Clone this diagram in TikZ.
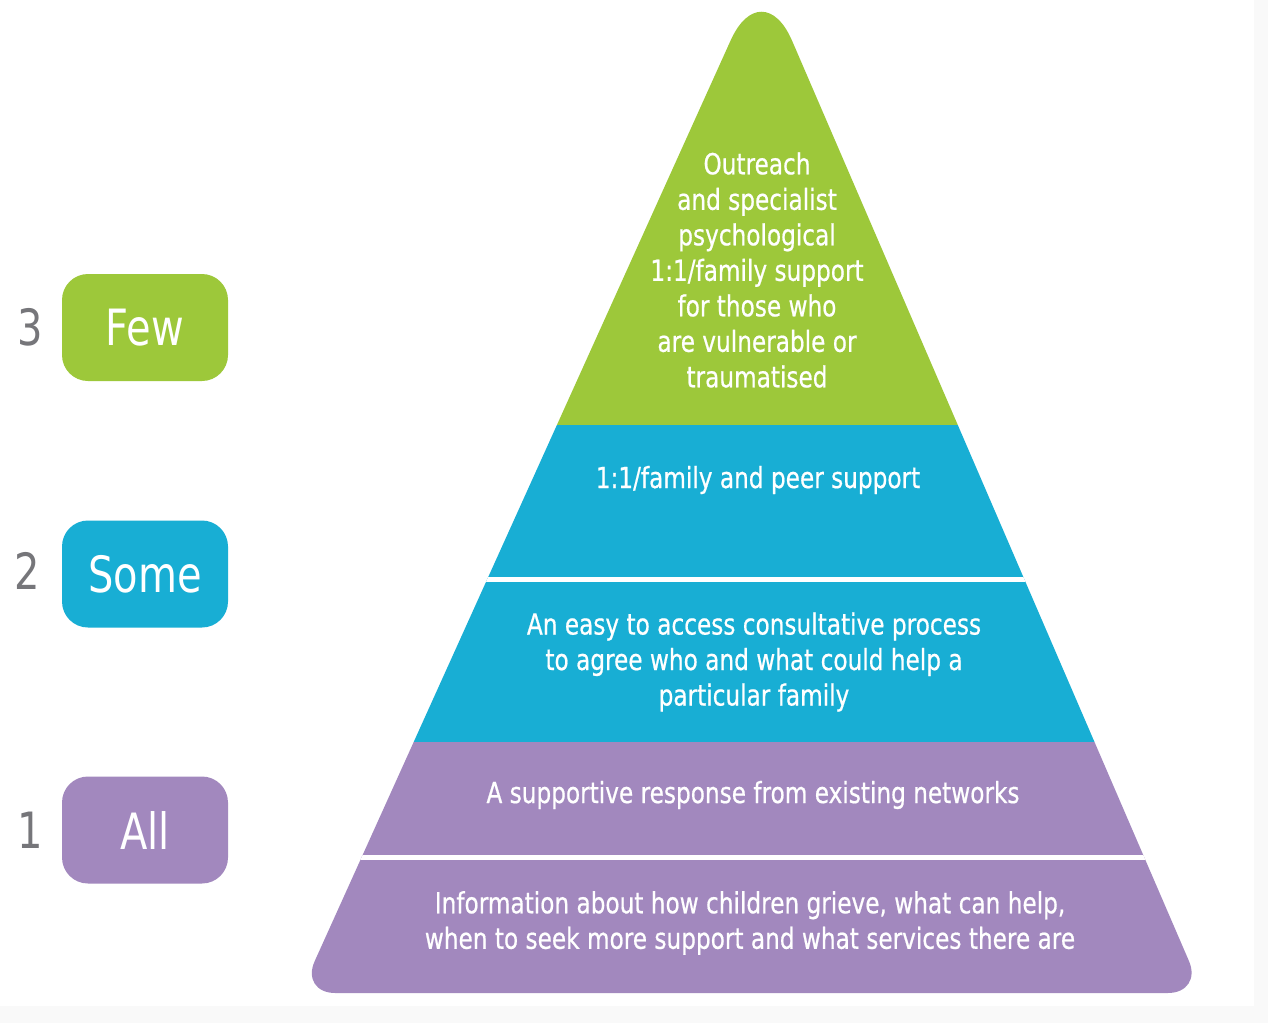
\documentclass[tikz,border=0pt]{standalone}
\usepackage{fontspec}
\newfontfamily\pyr[FakeStretch=0.8,FakeBold=0.6]{DejaVu Sans}
\newfontfamily\pyrtag[FakeStretch=0.8]{DejaVu Sans}
\definecolor{pgreen}{RGB}{157,200,58}
\definecolor{pblue}{RGB}{24,174,212}
\definecolor{ppurple}{RGB}{162,136,190}
\definecolor{pgray}{RGB}{118,118,122}
\definecolor{edgegray}{RGB}{249,249,249}
\tikzset{
  layertext/.style={text=white, align=center, inner sep=0pt, font=\pyr\fontsize{29}{35.5}\selectfont},
  tagbox/.style={rounded corners=26pt, minimum width=166pt, minimum height=107pt, inner sep=0pt, text=white, font=\pyrtag\fontsize{50}{60}\selectfont},
  tagnum/.style={text=pgray, inner sep=0pt, font=\pyrtag\fontsize{50}{60}\selectfont}
}
\begin{document}
\begin{tikzpicture}[x=1pt,y=-1pt]
\useasboundingbox (0,0) rectangle (1268,1023);
\fill[white] (0,0) rectangle (1268,1023);
\fill[edgegray] (0,1006) rectangle (1268,1023);
\fill[edgegray] (1254,0) rectangle (1268,1023);
% pyramid
\begin{scope}
\clip (335.3,993) .. controls (316.0,993) and (306.7,978.7) .. (314.7,961.1)
  -- (730.7,40.3) .. controls (748,2) and (775.5,2.25) .. (792.1,40.8)
  -- (1188.9,960.9) .. controls (1196.6,978.6) and (1187.1,993) .. (1167.8,993) -- cycle;
\fill[pgreen] (250,-10) rectangle (1250,425);
\fill[pblue] (250,425) rectangle (1250,742);
\fill[ppurple] (250,742) rectangle (1250,1000);
\fill[white] (250,576.5) rectangle (1250,581.5);
\fill[white] (250,855) rectangle (1250,860);
\end{scope}
% layer texts
\node[layertext] (t3) at (757,270) {Outreach\\and specialist\\psychological\\1:1/family support\\for those who\\are vulnerable or\\traumatised};
\node[layertext] (t2a) at (758,480) {1:1/family and peer support};
\node[layertext] (t2b) at (754,662) {An easy to access consultative process\\to agree who and what could help a\\particular family};
\node[layertext] (t1a) at (753,795) {A supportive response from existing networks};
\node[layertext] (t1b) at (750,923) {Information about how children grieve, what can help,\\when to seek more support and what services there are};
% left tags
\node[tagbox, fill=pgreen] (few) at (145,327.5) {Few};
\node[tagbox, fill=pblue] (some) at (145,574) {Some};
\node[tagbox, fill=ppurple] (all) at (145,830) {All};
\node[tagnum] (n3) at (30,327) {3};
\node[tagnum] (n2) at (27,571) {2};
\node[tagnum] (n1) at (30,830) {1};
\end{tikzpicture}
\end{document}
